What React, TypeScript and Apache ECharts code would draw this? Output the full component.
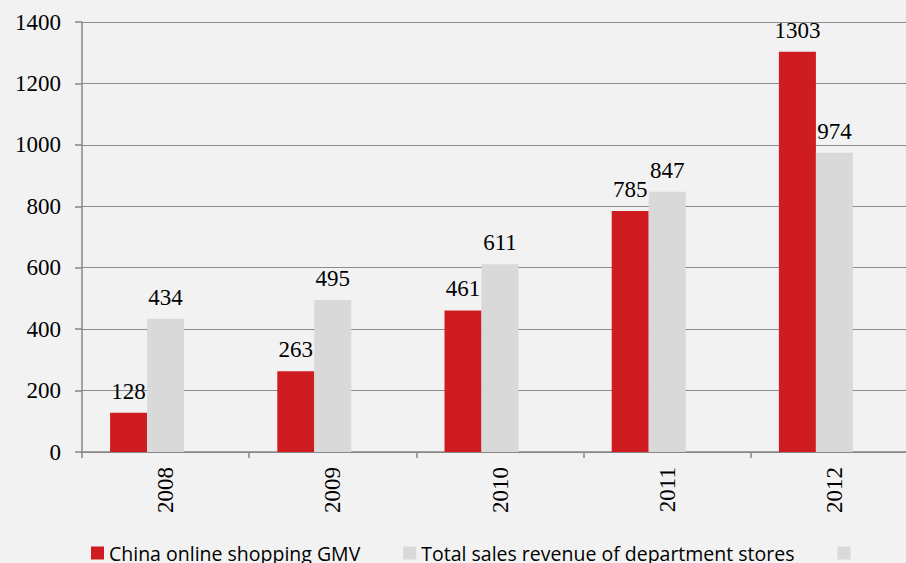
import React, { useEffect, useRef } from "react";
import * as echarts from "echarts";

const categories = ["2008", "2009", "2010", "2011", "2012"];
const gmvValues = [128, 263, 461, 785, 1303];
const deptValues = [434, 495, 611, 847, 974];
const extraValues: number[] = [];
const seriesNames = ["China online shopping GMV", "Total sales revenue of department stores", "\u00A0"];

export default function App() {
  const ref = useRef<HTMLDivElement>(null);
  useEffect(() => {
    document.body.style.margin = "0";
    document.documentElement.style.overflow = "hidden";
    const chart = echarts.init(ref.current!, null, { renderer: "svg" });
    const serif = "'Liberation Serif', serif";
    const labelStyle = {
      show: true,
      position: "top" as const,
      distance: 10,
      color: "#000",
      fontFamily: serif,
      fontSize: 23,
    };
    chart.setOption({
      animation: false,
      backgroundColor: "#f2f2f2",
      grid: { left: 82, top: 22, right: 2, bottom: 111, containLabel: false },
      legend: {
        left: 91,
        top: 543,
        padding: 0,
        itemWidth: 13,
        itemHeight: 13,
        itemGap: 43,
        icon: "rect",
        textStyle: { fontFamily: "'Open Sans', sans-serif", fontSize: 19.5, color: "#000" },
        data: seriesNames,
      },
      xAxis: {
        type: "category",
        data: categories,
        axisLine: { lineStyle: { color: "#868686", width: 1.5 } },
        axisTick: { show: true, length: 6, lineStyle: { color: "#868686", width: 1.5 } },
        axisLabel: { rotate: 90, margin: 15, color: "#000", fontFamily: serif, fontSize: 23 },
      },
      yAxis: {
        type: "value",
        min: 0,
        max: 1400,
        interval: 200,
        axisLine: { show: true, lineStyle: { color: "#868686", width: 1.5 } },
        axisTick: { show: true, length: 7, lineStyle: { color: "#868686", width: 1.5 } },
        splitLine: { lineStyle: { color: "#8c8c8c", width: 1 } },
        axisLabel: {
          margin: 21,
          color: "#000",
          fontFamily: serif,
          fontSize: 23,
          formatter: (v: number) => String(v),
        },
      },
      series: [
        {
          name: seriesNames[0],
          type: "bar",
          data: gmvValues,
          barWidth: 37,
          barGap: "0%",
          itemStyle: { color: "#cf1c20" },
          label: labelStyle,
        },
        {
          name: seriesNames[1],
          type: "bar",
          data: deptValues,
          barWidth: 37,
          barGap: "0%",
          itemStyle: { color: "#d9d9d9" },
          label: labelStyle,
        },
        {
          name: seriesNames[2],
          type: "bar",
          data: extraValues,
          barWidth: 37,
          barGap: "0%",
          itemStyle: { color: "#d9d9d9" },
        },
      ],
    });
    return () => chart.dispose();
  }, []);
  return (
    <div style={{ position: "fixed", left: 0, top: 0, width: 906, height: 563, overflow: "hidden", background: "#f2f2f2" }}>
      <div ref={ref} style={{ width: 920, height: 563 }} />
    </div>
  );
}
